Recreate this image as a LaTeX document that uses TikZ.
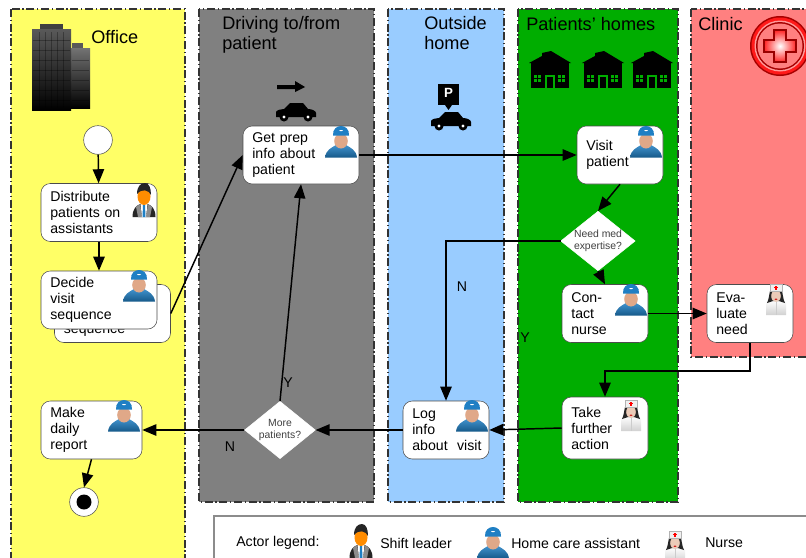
\documentclass[tikz,border=0pt]{standalone}
\usepackage{fontspec}
\setmainfont{Liberation Sans}
\usetikzlibrary{arrows.meta,shapes.geometric,calc}
\definecolor{laneyellow}{HTML}{FFFF66}
\definecolor{lanegray}{HTML}{808080}
\definecolor{laneblue}{HTML}{99CCFF}
\definecolor{lanegreen}{HTML}{00AD00}
\definecolor{lanered}{HTML}{FF8080}
\definecolor{capblue}{HTML}{1F7FC4}
\definecolor{skin}{HTML}{E0A888}
\tikzset{
  lane/.style={draw=black!80,line width=.9pt,dash pattern=on 6pt off 2pt on 1pt off 2pt},
  task/.style={draw=black!70,fill=white,rounded corners=7pt,minimum height=43.5pt,inner xsep=7pt,
    inner ysep=0pt,align=left,font=\fontsize{10.6}{12}\selectfont},
  wide/.style={text width=73pt},
  mid/.style={text width=50.5pt},
  gate/.style={diamond,draw=white,fill=white,aspect=1.25,minimum width=53pt,minimum height=43pt,inner sep=0pt,
    align=center,text=black!75,font=\fontsize{7.8}{8.6}\selectfont},
  head/.style={anchor=north west,inner sep=0pt,align=left,font=\fontsize{13.6}{15}\selectfont},
  lbl/.style={inner sep=0pt,font=\fontsize{10.6}{12}\selectfont},
  flow/.style={->,line width=1.1pt,black},
  >={Triangle[length=10.5pt,width=8.5pt]},
  pics/hcassistant/.style={code={
    \path[top color=capblue!85,bottom color=capblue!70!black] (-16,15.5) .. controls (-15,8) and (-10,6) .. (-5,3) -- (5,3) .. controls (10,6) and (15,8) .. (16,15.5) -- cycle;
    \fill[skin] (0,-1) ellipse (6.8 and 7.5);
    \fill[capblue] (-8,-6.5) .. controls (-8.5,-13) and (-4,-16) .. (0,-16) .. controls (4,-16) and (8.5,-13) .. (8,-6.5) -- cycle;
    \fill[white] (-2,-12) -- (2,-12) -- (1,-11) -- (-1,-11) -- cycle;
  }},
  pics/shiftleader/.style={code={
    \fill[black!85] (-11.5,17) .. controls (-11.5,9) and (-8,6) .. (-4,4) -- (4,4) .. controls (8,6) and (11.5,9) .. (11.5,17) -- cycle;
    \fill[black!45] (-8,7) -- (-4,4) -- (-2,17) -- (-6,17) -- cycle;
    \fill[black!45] (8,7) -- (4,4) -- (2,17) -- (6,17) -- cycle;
    \fill[white] (-3.5,4) -- (3.5,4) -- (2,17) -- (-2,17) -- cycle;
    \fill[capblue] (-1,5) -- (1,5) -- (1.5,17) -- (-1.5,17) -- cycle;
    \fill[orange!90!yellow] (0,-3.5) ellipse (6.5 and 8.5);
    \fill[black!85] (-7,-6) .. controls (-7,-14) and (-3,-17) .. (1,-17) .. controls (5,-17) and (7,-12) .. (7,-5) .. controls (5,-10) and (-2,-12) .. (-7,-6) -- cycle;
  }},
  pics/nurse/.style={code={
    \path[top color=white,bottom color=black!18] (-10,15) -- (-10,3) -- (-4,0) -- (4,0) -- (10,3) -- (10,15) -- cycle;
    \draw[black!20,line width=.4pt] (0,1) -- (0,15);
    \fill[black!85] (-9,3) .. controls (-7,-1) and (-7,-5) .. (-6,-9) -- (6,-9) .. controls (7,-5) and (7,-1) .. (9,3) -- (3,1) -- (-3,1) -- cycle;
    \fill[skin!60!white] (0,-4) ellipse (4.8 and 6);
    \fill[red!80!black] (0,-.8) ellipse (1.6 and .7);
    \fill[black!6,draw=black!30,line width=.3pt] (-6,-9) -- (-6,-15.5) -- (6,-15.5) -- (6,-9) -- cycle;
    \fill[red] (-.7,-14.5) rectangle (.7,-10.5);
    \fill[red] (-2,-13.2) rectangle (2,-11.8);
  }},
  pics/car/.style={code={
    \fill[black] (-20,6) -- (-20,1) .. controls (-19,-1) and (-15,-2) .. (-12,-2) -- (-6,-8) -- (7,-8) -- (12,-2) .. controls (16,-2) and (20,0) .. (20,2) -- (20,6) -- cycle;
    \foreach \wx in {-12,12}{
      \fill[black] (\wx,6) circle (4.5);
      \fill[white] (\wx,6) circle (1.7);
    }
  }},
  pics/house/.style={code={
    \fill[black] (-21,-7) -- (-8,-14) -- (-8,-17) -- (1,-19) -- (21,-7) -- cycle;
    \fill[black] (-19,-7) rectangle (19,18);
    \foreach \wx in {-16,-12,8,12}{
      \foreach \wy in {5,9}{
        \fill[lanegreen] (\wx,\wy) rectangle ++(3,3);
      }
    }
    \draw[lanegreen,line width=.9pt] (-4,18) -- (-4,6) -- (4,6) -- (4,18);
  }},
  pics/clinic/.style={code={
    \fill[red!65!black] (0,0) circle (30);
    \fill[red!90!white] (0,0) circle (28.5);
    \fill[lanered!80!white] (0,0) circle (25.5);
    \fill[red!65!black] (0,0) circle (24);
    \fill[lanered] (0,0) circle (22.5);
    \draw[red!60!black,line width=.8pt,inner color=white,outer color=red!85!white] (-6,-16) -- (6,-16) -- (6,-6) -- (16,-6) -- (16,6) -- (6,6) -- (6,16) -- (-6,16) -- (-6,6) -- (-16,6) -- (-16,-6) -- (-6,-6) -- cycle;
  }},
  pics/office/.style={code={
    \path[top color=black!55,bottom color=black] (71,48) rectangle (90,108);
    \fill[black!65] (72,43) rectangle (83,48);
    \path[top color=black!65,bottom color=black] (32,29) rectangle (71,110);
    \fill[black!75] (40,24) rectangle (63,29);
    \foreach \wx in {39,45,51,57,63}{
      \draw[black,opacity=.3,line width=.6pt] (\wx,32) -- (\wx,108);
    }
    \foreach \wy in {40,50,60,70,80,90,100}{
      \draw[black,opacity=.3,line width=.6pt] (33,\wy) -- (70,\wy);
    }
    \foreach \wy in {60,70,80,90,100}{
      \draw[black,opacity=.3,line width=.6pt] (72,\wy) -- (89,\wy);
    }
  }},
  pics/slots/.style={code={
    \fill[black] (-11,-14) rectangle (10,7);
    \fill[black] (-4,7) -- (3,7) -- (-.5,12) -- cycle;
  }},
}
\begin{document}
\begin{tikzpicture}[x=.75pt,y=-.75pt]
    \clip (0,0) rectangle (806,557);
    % lanes
    \draw[lane,fill=laneyellow] (11,9) rectangle (185,580);
    \draw[lane,fill=lanegray] (199,9) rectangle (374,502);
    \draw[lane,fill=laneblue] (388,9) rectangle (504,502);
    \draw[lane,fill=lanegreen] (518,9) rectangle (678,502);
    \draw[lane,fill=lanered] (691,9) rectangle (830,357);
    \draw[draw=black!45,line width=.8pt,fill=white] (214,516) rectangle (830,580);
    \node[head] (hoffice) at (91,30) {Office};
    \node[head] (hdriving) at (222,16) {Driving to/from\\patient};
    \node[head] (houtside) at (424,16) {Outside\\home};
    \node[head] (hhomes) at (526,17) {Patients' homes};
    \node[head] (hclinic) at (698,17) {Clinic};
    % scenery
    \pic at (0,0) {office};
    \fill[black] (277,85) -- (295,85) -- (295,81) -- (305,87) -- (295,92) -- (295,89) -- (277,89) -- cycle;
    \pic at (296,111) {car};
    \pic at (449,98) {slots};
    \node[inner sep=0pt,text=white,font=\bfseries\fontsize{10}{12}\selectfont] (psign) at (448.5,93) {P};
    \pic at (451,120) {car};
    \foreach \hx in {550,603,652}{
      \pic at (\hx,70) {house};
    }
    \pic at (780,46) {clinic};
    % tasks
    \node[circle,draw=black!70,fill=white,minimum size=21.5pt,inner sep=0pt] (start) at (98,140) {};
    \node[task,wide] (distribute) at (99,212.5) {Distribute\\patients on\\assistants};
    \node[task,wide] (decideback) at (112.5,313.5) {\phantom{Decide}\\\phantom{visit}\\sequence};
    \node[task,wide] (decide) at (99,300) {Decide\\visit\\sequence};
    \node[task,text width=61.75pt] (report) at (91.5,430) {Make\\daily\\report};
    \node[circle,draw=black!70,fill=white,minimum size=21.5pt,inner sep=0pt] (finish) at (84,502) {};
    \fill[black] (finish.center) circle (7.5);
    \node[task,wide] (prep) at (301,155) {Get prep\\info about\\patient};
    \node[task,mid] (visit) at (620,155) {Visit\\patient};
    \node[gate] (need) at (598,241) {Need med\\expertise?};
    \node[task,mid] (contact) at (605,313.5) {Con-\\tact\\nurse};
    \node[task,mid] (evaluate) at (750,313.5) {Eva-\\luate\\need};
    \node[task,mid,minimum height=46.5pt] (further) at (605,428) {Take\\further\\action};
    \node[task,mid] (log) at (446,430) {Log\\info\\about~ visit};
    \node[gate] (more) at (280,430) {More\\patients?};
    % connectors
    \draw[flow] (start) -- (distribute);
    \draw[flow] (distribute) -- (decide);
    \draw[flow] (decideback.east) -- (prep.west);
    \draw[flow] (prep) -- (visit);
    \draw[flow] (visit.south) -- (need.north);
    \draw[flow] (need.west) -| (log.north);
    \draw[flow] (need.south) -- (contact.north);
    \draw[flow] (contact) -- (evaluate);
    \draw[flow] (evaluate.south) -- ++(0,28) -| (further.north);
    \draw[flow] (further.west) -- (log.east);
    \draw[flow] (log) -- (more);
    \draw[flow] (more.north) -- (prep.south);
    \draw[flow] (more) -- (report);
    \draw[flow] (report.south) -- (finish.north);
    \node[lbl] (lbln) at (462,287) {N};
    \node[lbl] (lbly) at (525,338) {Y};
    \node[lbl] (lblyy) at (288,383) {Y};
    \node[lbl] (lblnn) at (230,447) {N};
    % actors
    \foreach \ax/\ay in {341/142,139/286,646/142,631/300,124/416,472/416,493/543}{
      \pic at (\ax,\ay) {hcassistant};
    }
    \foreach \ax/\ay in {144/200,361/541}{
      \pic at (\ax,\ay) {shiftleader};
    }
    \foreach \ax/\ay in {776/300,631/416,675/547}{
      \pic at (\ax,\ay) {nurse};
    }
    % legend
    \node[lbl,anchor=west] (legtitle) at (236,543) {Actor legend:};
    \node[lbl,anchor=west] (legleader) at (380,543) {Shift leader};
    \node[lbl,anchor=west] (legassistant) at (511,543) {Home care assistant};
    \node[lbl,anchor=west] (legnurse) at (705,543) {Nurse};
\end{tikzpicture}
\end{document}
